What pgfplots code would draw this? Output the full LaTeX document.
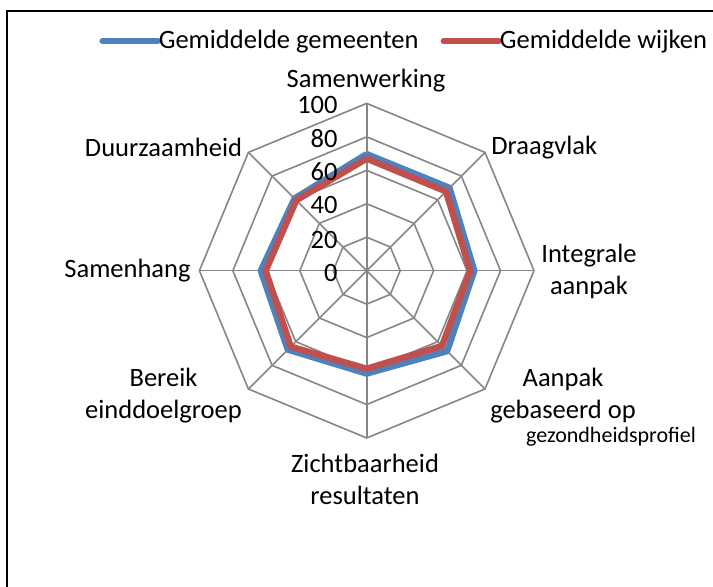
\documentclass[border=0pt]{standalone}
\usepackage{fontspec}
\setmainfont{Carlito}
\usepackage{pgfplots}
\usepackage{pgfplotstable}
\pgfplotsset{compat=1.18}
\usepgfplotslibrary{polar}
\definecolor{sblue}{HTML}{4F81BD}
\definecolor{sred}{HTML}{C0504D}
\definecolor{gridgray}{HTML}{868686}
\newcommand{\fs}{\fontsize{13.25}{16}\selectfont}
\newcommand{\fss}{\fontsize{11}{13}\selectfont}

\pgfplotstableread{
angle gem  wijk
90    69.7 67.0
45    70.0 67.0
0     64.3 61.8
315   68.0 63.6
270   61.5 58.6
225   66.7 64.2
180   63.3 60.4
135   61.0 59.5
90    69.7 67.0
}\datatable

\begin{document}
\begin{tikzpicture}
\useasboundingbox (0pt,0pt) rectangle (356.5pt,293.5pt);
\draw[line width=1pt,black] (3.5pt,0pt) -- (3.5pt,288pt) -- (356.5pt,288pt);
\begin{polaraxis}[
  at={(183.35pt,158.15pt)}, anchor=center,
  scale only axis, width=167.3pt, height=167.3pt,
  xmin=0, xmax=360, ymin=0, ymax=100,
  hide axis, clip=false,
  legend columns=2,
  legend image code/.code={\draw[#1,line cap=round] (0pt,0pt) -- (27.5pt,0pt);},
  legend style={at={(-0.300,1.1865)}, anchor=west, draw=none, fill=none,
    inner sep=0pt, font=\fs,
    nodes={inner sep=0.5pt},
    /tikz/every odd column/.append style={column sep=-1.5pt},
    /tikz/every even column/.append style={column sep=10.5pt}},
]
\pgfplotsinvokeforeach{20,40,60,80,100}{
  \addplot[gridgray, line width=0.8pt, mark=none, forget plot]
    coordinates {(0,#1)(45,#1)(90,#1)(135,#1)(180,#1)(225,#1)(270,#1)(315,#1)(360,#1)};
}
\pgfplotsinvokeforeach{0,45,90,135,180,225,270,315}{
  \addplot[gridgray, line width=0.8pt, mark=none, forget plot]
    coordinates {(#1,0)(#1,100)};
}
\addplot[sblue, line width=3.2pt, line join=round, mark=none] table[x=angle,y=gem]{\datatable};
\addlegendentry{Gemiddelde gemeenten}
\addplot[sred, line width=3.2pt, line join=round, mark=none] table[x=angle,y=wijk]{\datatable};
\addlegendentry{Gemiddelde wijken}
\end{polaraxis}
\begin{scope}[x=0.5pt,y=0.5pt,every node/.style={inner sep=0pt, font=\fs}]
\node[anchor=east] at (338,482) {100};
\node[anchor=east] at (338,448) {80};
\node[anchor=east] at (338,415) {60};
\node[anchor=east] at (338,382) {40};
\node[anchor=east] at (338,347) {20};
\node[anchor=east] at (338,314) {0};
\node at (366,506) {Samenwerking};
\node[anchor=west] at (491,439) {Draagvlak};
\node[align=center] at (589,316) {Integrale\\aanpak};
\node[align=center] at (563,191) {Aanpak\\gebaseerd op};
\node[font=\fss] at (611,150) {gezondheidsprofiel};
\node[align=center] at (365,108) {Zichtbaarheid\\resultaten};
\node[align=center] at (163.5,191) {Bereik\\einddoelgroep};
\node[anchor=east] at (191,316) {Samenhang};
\node at (163.5,440) {Duurzaamheid};
\end{scope}
\end{tikzpicture}
\end{document}
